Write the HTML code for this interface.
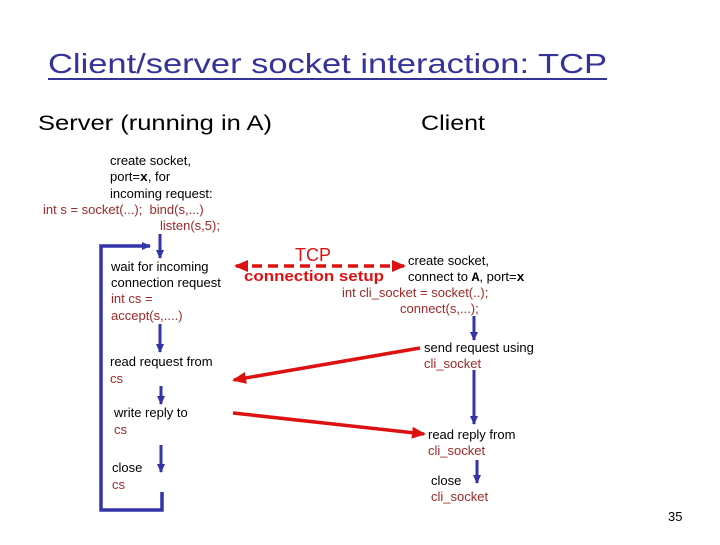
<!DOCTYPE html>
<html><head><meta charset="utf-8"><style>html,body{margin:0;padding:0;background:#fff}</style></head>
<body>
<svg width="720" height="540" viewBox="0 0 720 540" xmlns="http://www.w3.org/2000/svg" font-family="Liberation Sans, sans-serif">
<defs>
<marker id="bh" markerWidth="10" markerHeight="10" refX="8" refY="4" orient="auto" markerUnits="userSpaceOnUse"><path d="M0,0 L9,4 L0,8 z" fill="#3333aa"/></marker>
<marker id="rh" markerWidth="16" markerHeight="16" refX="12" refY="6" orient="auto" markerUnits="userSpaceOnUse"><path d="M0,0 L14,6 L0,12 z" fill="#dd1111"/></marker>
<marker id="rs" markerWidth="16" markerHeight="16" refX="2" refY="6" orient="auto" markerUnits="userSpaceOnUse"><path d="M14,0 L0,6 L14,12 z" fill="#dd1111"/></marker>
</defs>
<text x="48" y="73" font-size="28" fill="#333399" textLength="559" lengthAdjust="spacingAndGlyphs">Client/server socket interaction: TCP</text>
<line x1="48" y1="79" x2="607" y2="79" stroke="#333399" stroke-width="2"/>
<text x="38" y="130" font-size="21" fill="#000" textLength="234" lengthAdjust="spacingAndGlyphs">Server (running in A)</text>
<text x="421" y="130" font-size="21" fill="#000" textLength="64" lengthAdjust="spacingAndGlyphs">Client</text>

<g font-size="13">
<text x="110" y="165">create socket,</text>
<text x="110" y="181">port=<tspan font-weight="bold" font-family="Liberation Mono, monospace">x</tspan>, for</text>
<text x="110" y="198">incoming request:</text>
<text x="43" y="214" fill="#a02828" xml:space="preserve">int s = socket(...);  bind(s,...)</text>
<text x="160" y="230" fill="#a02828">listen(s,5);</text>
<text x="111" y="271">wait for incoming</text>
<text x="111" y="287">connection request</text>
<text x="111" y="303" fill="#a02828">int cs =</text>
<text x="111" y="320" fill="#a02828">accept(s,....)</text>
<text x="110" y="366">read request from</text>
<text x="110" y="383" fill="#a02828">cs</text>
<text x="114" y="417">write reply to</text>
<text x="114" y="434" fill="#a02828">cs</text>
<text x="112" y="472">close</text>
<text x="112" y="489" fill="#a02828">cs</text>

<text x="408" y="265">create socket,</text>
<text x="408" y="281">connect to <tspan font-weight="bold" font-family="Liberation Mono, monospace">A</tspan>, port=<tspan font-weight="bold" font-family="Liberation Mono, monospace">x</tspan></text>
<text x="342" y="297" fill="#a02828">int cli_socket = socket(..);</text>
<text x="400" y="313" fill="#a02828">connect(s,...);</text>
<text x="424" y="352">send request using</text>
<text x="424" y="368" fill="#a02828">cli_socket</text>
<text x="428" y="439">read reply from</text>
<text x="428" y="455" fill="#a02828">cli_socket</text>
<text x="431" y="485">close</text>
<text x="431" y="501" fill="#a02828">cli_socket</text>
<text x="668" y="521">35</text>
</g>

<text x="295" y="261" font-size="18" fill="#dd1111">TCP</text>
<text x="244" y="281" font-size="15" font-weight="bold" fill="#dd1111" textLength="140" lengthAdjust="spacingAndGlyphs">connection setup</text>

<g stroke="#3333aa" stroke-width="3" fill="none">
<line x1="160" y1="234" x2="160" y2="258" marker-end="url(#bh)"/>
<line x1="160" y1="324" x2="160" y2="352" marker-end="url(#bh)"/>
<line x1="161" y1="386" x2="161" y2="404" marker-end="url(#bh)"/>
<line x1="161" y1="445" x2="161" y2="472" marker-end="url(#bh)"/>
<polyline points="162,492 162,510 101,510 101,246 150,246" stroke-width="3.5" marker-end="url(#bh)"/>
<line x1="474" y1="316" x2="474" y2="340" marker-end="url(#bh)"/>
<line x1="474" y1="370" x2="474" y2="424" marker-end="url(#bh)"/>
<line x1="477" y1="460" x2="477" y2="483" marker-end="url(#bh)"/>
</g>
<g stroke="#dd1111" stroke-width="3.5" fill="none">
<line x1="236" y1="266" x2="404" y2="266" stroke-dasharray="10,6" marker-start="url(#rs)" marker-end="url(#rh)"/>
<line x1="420" y1="348" x2="234" y2="380" marker-end="url(#rh)"/>
<line x1="233" y1="413" x2="424" y2="434" marker-end="url(#rh)"/>
</g>
</svg>
</body></html>
